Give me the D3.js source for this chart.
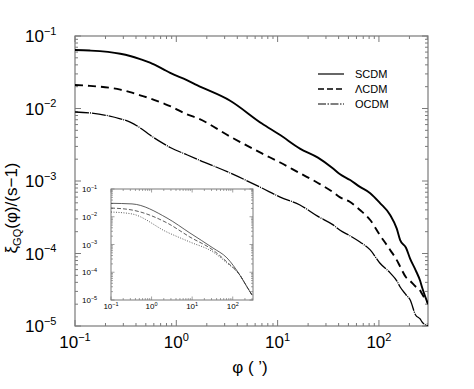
<!DOCTYPE html>
<html>
<head>
<meta charset="utf-8">
<script src="https://cdn.jsdelivr.net/npm/d3@7.9.0/dist/d3.min.js"></script>
<style>
  body { margin: 0; background: #fff; }
  svg { display: block; font-family: "Liberation Sans", Arial, sans-serif; }
</style>
</head>
<body>
<div id="chart"></div>
<script>
// angular separation phi (arcmin) and xi_GQ / (s-1)
const phiMain = [0.1, 0.14, 0.28, 0.35, 0.44, 0.55, 0.74, 0.87, 1.27, 1.6, 3.4, 7, 10.6, 16.6, 25, 35, 41, 52, 65, 82, 102, 129, 150, 162, 185, 203, 230, 255, 265, 305];
const scdm = [0.064, 0.063, 0.057, 0.053, 0.048, 0.043, 0.035, 0.031, 0.0247, 0.021, 0.0128, 0.0062, 0.0043, 0.0028, 0.0021, 0.0015, 0.00125, 0.00103, 0.00083, 0.00068, 0.0005, 0.00034, 0.00022, 0.000153, 0.00012, 8.5e-5, 5.9e-5, 4.2e-5, 3.5e-5, 2e-5];
const lcdm = [0.0211, 0.0205, 0.0182, 0.0168, 0.0152, 0.0138, 0.0118, 0.0108, 0.0083, 0.0074, 0.0041, 0.0024, 0.0018, 0.00128, 0.00094, 0.000705, 0.0006, 0.000513, 0.000398, 0.00029, 0.00018, 0.000112, 8.1e-5, 6.6e-5, 4.7e-5, 4.2e-5, 3.5e-5, 3.1e-5, 2.8e-5, 2.1e-5];
const ocdm = [0.00895, 0.0087, 0.0072, 0.0065, 0.0054, 0.0043, 0.0033, 0.0029, 0.0023, 0.002, 0.00129, 0.0008, 0.0006, 0.000467, 0.000325, 0.00025, 0.000211, 0.000175, 0.000144, 0.000112, 7.4e-5, 5.4e-5, 4.2e-5, 3.45e-5, 2.7e-5, 2.3e-5, 1.42e-5, 1.25e-5, 1.15e-5, 1.0e-5];

// inset panel
const phiInset = [0.1, 0.33, 2.4, 8.8, 32.5, 72, 150, 224, 300];
const insetSolid = [0.0305, 0.029, 0.009, 0.0026, 0.00075, 0.00033, 7.9e-5, 3e-5, 1.5e-5];
const insetDashed = [0.0206, 0.0175, 0.006, 0.00186, 0.00063, 0.000234, 7.9e-5, 3e-5, 1.5e-5];
const insetDotted = [0.0148, 0.0126, 0.0028, 0.00123, 0.00054, 0.000215, 7.9e-5, 3e-5, 1.5e-5];

const xDecades = [-1, 0, 1, 2];
const yDecades = [-1, -2, -3, -4, -5];
const legendNames = ['SCDM', 'ΛCDM', 'OCDM'];

const width = 474;
const height = 389;

const svg = d3.select('#chart').append('svg')
    .attr('width', width)
    .attr('height', height);

const frameColor = '#7a7a7a';

function minorTicks(lo, hi) {
    const t = [];
    for (let e = -6; e <= 3; e++) {
        for (let m = 1; m <= 9; m++) {
            const v = m * Math.pow(10, e);
            if (v >= lo * 0.999 && v <= hi * 1.001) t.push(v);
        }
    }
    return t;
}

// framed log-log panel, inward ticks on all four sides
function drawPanel(g, x, y, opts) {
    const [x0, x1] = x.range();
    const [y1, y0] = y.range();
    const allX = minorTicks(x.domain()[0], x.domain()[1]);
    const allY = minorTicks(y.domain()[0], y.domain()[1]);

    g.append('rect')
        .attr('x', x0).attr('y', y0)
        .attr('width', x1 - x0).attr('height', y1 - y0)
        .attr('fill', '#fff')
        .attr('stroke', frameColor)
        .attr('stroke-width', opts.frameWidth);

    const isMaj = (v) => Math.abs(Math.log10(v) - Math.round(Math.log10(v))) < 1e-6;
    const len = (v) => (isMaj(v) ? opts.major : opts.minor);

    const ticks = g.append('g').attr('stroke', frameColor).attr('stroke-width', opts.tickWidth);
    ticks.selectAll('.xb').data(allX).join('line')
        .attr('x1', (d) => x(d)).attr('x2', (d) => x(d))
        .attr('y1', y1).attr('y2', (d) => y1 - len(d));
    ticks.selectAll('.xt').data(allX).join('line')
        .attr('x1', (d) => x(d)).attr('x2', (d) => x(d))
        .attr('y1', y0).attr('y2', (d) => y0 + len(d));
    ticks.selectAll('.yl').data(allY).join('line')
        .attr('y1', (d) => y(d)).attr('y2', (d) => y(d))
        .attr('x1', x0).attr('x2', (d) => x0 + len(d));
    ticks.selectAll('.yr').data(allY).join('line')
        .attr('y1', (d) => y(d)).attr('y2', (d) => y(d))
        .attr('x1', x1).attr('x2', (d) => x1 - len(d));

    // power-of-ten labels
    const labels = g.append('g').attr('font-size', opts.font);
    xDecades.forEach((e) => {
        const t = labels.append('text')
            .attr('x', x(Math.pow(10, e)) + opts.xlabDx)
            .attr('y', y1 + opts.xlabDy)
            .attr('text-anchor', 'middle');
        t.append('tspan').text('10');
        t.append('tspan').attr('font-size', opts.sup).attr('dy', -opts.font * 0.42).text(e === -1 ? '−1' : e);
    });
    yDecades.forEach((e) => {
        const t = labels.append('text')
            .attr('x', opts.ylabX)
            .attr('y', y(Math.pow(10, e)) + opts.ylabDy);
        t.append('tspan').text('10');
        t.append('tspan').attr('font-size', opts.sup).attr('dy', -opts.font * 0.42).text('−' + (-e));
    });
}

// ---------- main panel ----------
const x = d3.scaleLog().domain([0.1, 305]).range([75, 428]);
const y = d3.scaleLog().domain([1e-5, 0.1]).range([326, 36]);

const main = svg.append('g');
drawPanel(main, x, y, {
    frameWidth: 1.2, tickWidth: 1, major: 6, minor: 3,
    font: 17, sup: 11, xlabDx: 0, xlabDy: 22, ylabX: 25, ylabDy: 6
});

const line = d3.line().x((d) => x(d[0])).y((d) => y(d[1])).curve(d3.curveMonotoneX);
svg.append('clipPath').attr('id', 'mainclip')
    .append('rect').attr('x', 75).attr('y', 36).attr('width', 353).attr('height', 290);

const curves = main.append('g').attr('clip-path', 'url(#mainclip)').attr('fill', 'none').attr('stroke', '#000');
curves.append('path').datum(d3.zip(phiMain, scdm)).attr('d', line).attr('stroke-width', 1.9);
curves.append('path').datum(d3.zip(phiMain, lcdm)).attr('d', line).attr('stroke-width', 1.9).attr('stroke-dasharray', '8,5');
curves.append('path').datum(d3.zip(phiMain, ocdm)).attr('d', line).attr('stroke-width', 1.3).attr('stroke-dasharray', '14,1,1,1');

// legend
const legend = main.append('g').attr('font-size', 11);
const legendStyles = [
    { w: 1.2, dash: null },
    { w: 1.6, dash: '6,3' },
    { w: 1.0, dash: '8,1.5,1.5,1.5' }
];
legendNames.forEach((name, i) => {
    const ly = 74 + i * 15;
    legend.append('line')
        .attr('x1', 318).attr('x2', 344).attr('y1', ly).attr('y2', ly)
        .attr('stroke', '#000').attr('stroke-width', legendStyles[i].w)
        .attr('stroke-dasharray', legendStyles[i].dash);
    legend.append('text').attr('x', 355).attr('y', ly + 4).text(name);
});

// axis titles
const ytitle = svg.append('text')
    .attr('transform', 'translate(17,208) rotate(-90)')
    .attr('text-anchor', 'middle')
    .attr('font-size', 17);
ytitle.append('tspan').text('ξ');
ytitle.append('tspan').attr('font-size', 11).attr('dy', 4).text('GQ');
ytitle.append('tspan').attr('dy', -4).text('(φ)/(s−1)');

svg.append('text')
    .attr('x', 250).attr('y', 373)
    .attr('text-anchor', 'middle')
    .attr('font-size', 17)
    .text('φ ( ’)');

// ---------- inset panel ----------
const xi = d3.scaleLog().domain([0.1, 316]).range([111, 253]);
const yi = d3.scaleLog().domain([1e-5, 0.1]).range([300, 189]);
const inset = svg.append('g');
drawPanel(inset, xi, yi, {
    frameWidth: 1, tickWidth: 0.7, major: 3.5, minor: 2,
    font: 8, sup: 5.5, xlabDx: 0, xlabDy: 9, ylabX: 82, ylabDy: 3
});

const iline = d3.line().x((d) => xi(d[0])).y((d) => yi(d[1])).curve(d3.curveMonotoneX);
const icurves = inset.append('g').attr('fill', 'none').attr('stroke', '#333');
icurves.append('path').datum(d3.zip(phiInset, insetSolid)).attr('d', iline).attr('stroke-width', 0.8);
icurves.append('path').datum(d3.zip(phiInset, insetDashed)).attr('d', iline).attr('stroke-width', 0.8).attr('stroke-dasharray', '4,2');
icurves.append('path').datum(d3.zip(phiInset, insetDotted)).attr('d', iline).attr('stroke-width', 0.8).attr('stroke-dasharray', '1,1.5');
</script>
</body>
</html>
